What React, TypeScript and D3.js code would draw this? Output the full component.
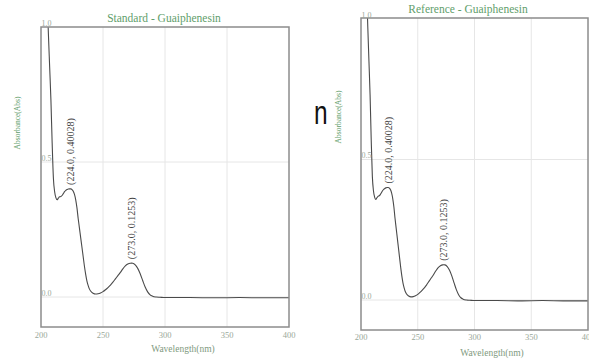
import React from "react";
import * as d3 from "d3";

const wavelengths = [200, 202, 204, 205, 206, 207, 208, 209, 210, 211, 212, 213, 214, 215, 216, 217, 218, 219, 220, 221, 222, 223, 224, 225, 226, 227, 228, 229, 230, 231, 232, 233, 234, 235, 236, 237, 238, 239, 240, 242, 244, 246, 248, 250, 252, 254, 256, 258, 260, 262, 264, 266, 268, 270, 272, 273, 274, 276, 278, 280, 282, 284, 286, 288, 290, 293, 296, 300, 320, 340, 360, 380, 400];
const standardAbs = [1.9, 1.6, 1.25, 1.1, 0.97, 0.85, 0.73, 0.57, 0.44, 0.39, 0.368, 0.36, 0.366, 0.371, 0.372, 0.376, 0.383, 0.39, 0.395, 0.398, 0.4, 0.4003, 0.40028, 0.398, 0.392, 0.38, 0.36, 0.33, 0.29, 0.255, 0.22, 0.185, 0.15, 0.115, 0.085, 0.06, 0.043, 0.03, 0.022, 0.014, 0.011, 0.012, 0.015, 0.02, 0.027, 0.035, 0.044, 0.055, 0.067, 0.079, 0.091, 0.104, 0.115, 0.122, 0.1251, 0.1253, 0.125, 0.119, 0.106, 0.086, 0.061, 0.037, 0.019, 0.008, 0.003, 0.0, -0.001, -0.002, -0.002, -0.003, -0.002, -0.003, -0.003];
const referenceAbs = [1.9, 1.6, 1.25, 1.1, 0.97, 0.85, 0.73, 0.57, 0.44, 0.388, 0.366, 0.358, 0.364, 0.369, 0.371, 0.375, 0.382, 0.389, 0.394, 0.397, 0.399, 0.4003, 0.40028, 0.398, 0.392, 0.38, 0.36, 0.33, 0.29, 0.255, 0.22, 0.185, 0.15, 0.115, 0.085, 0.06, 0.043, 0.03, 0.022, 0.014, 0.011, 0.012, 0.015, 0.02, 0.027, 0.035, 0.044, 0.055, 0.067, 0.079, 0.091, 0.104, 0.115, 0.122, 0.1251, 0.1253, 0.125, 0.119, 0.106, 0.086, 0.061, 0.037, 0.019, 0.008, 0.003, 0.0, -0.001, -0.002, -0.002, -0.003, -0.002, -0.003, -0.003];
const xTicks = [200, 250, 300, 350, 400];
const yTicks = [0.0, 0.5, 1.0];
const peaks = [
  { wl: 224.0, abs: 0.40028, label: "(224.0, 0.40028)" },
  { wl: 273.0, abs: 0.1253, label: "(273.0, 0.1253)" },
];

const SERIF = "'Liberation Serif', 'DejaVu Serif', serif";
const GREEN = "#5f9e6b";
const TICK = "#9aa89a";

type PanelProps = {
  id: string;
  title: string;
  values: number[];
  x0: number;
  x1: number;
  yTop: number;
  yBottom: number;
  yZero: number;
  yOne: number;
  titleX: number;
  titleY: number;
  yLabelX: number;
  yLabelY: number;
  xLabelX: number;
  xLabelY: number;
  xTickY: number;
};

function Panel(p: PanelProps) {
  const x = d3.scaleLinear().domain([200, 400]).range([p.x0, p.x1]);
  const y = d3.scaleLinear().domain([0, 1]).range([p.yZero, p.yOne]);
  const line = d3
    .line<number>()
    .x((_, i) => x(wavelengths[i]))
    .y((d) => y(d))
    .curve(d3.curveMonotoneX);
  const clipId = `clip-${p.id}`;
  return (
    <g>
      <defs>
        <clipPath id={clipId}>
          <rect x={p.x0} y={p.yTop} width={p.x1 - p.x0} height={p.yBottom - p.yTop} />
        </clipPath>
      </defs>
      {xTicks.slice(1, -1).map((t) => (
        <line key={"gx" + t} x1={x(t)} x2={x(t)} y1={p.yTop} y2={p.yBottom} stroke="#e6e6e6" strokeWidth={1} />
      ))}
      {yTicks.slice(0, -1).map((t) => (
        <line key={"gy" + t} x1={p.x0} x2={p.x1} y1={y(t)} y2={y(t)} stroke="#e6e6e6" strokeWidth={1} />
      ))}
      <path d={line(p.values) || ""} fill="none" stroke="#4a4a4a" strokeWidth={1.1} clipPath={`url(#${clipId})`} />
      <rect x={p.x0} y={p.yTop} width={p.x1 - p.x0} height={p.yBottom - p.yTop} fill="none" stroke="#8c8c8c" strokeWidth={1.5} />
      {yTicks.map((t) => (
        <text key={"yt" + t} x={p.x0 + 0.5} y={y(t) - 1.5} fontFamily={SERIF} fontSize={8} fill={TICK}>
          {t.toFixed(1)}
        </text>
      ))}
      {xTicks.map((t) => (
        <text key={"xt" + t} x={x(t)} y={p.xTickY} fontFamily={SERIF} fontSize={8.5} fill={TICK} textAnchor="middle">
          {t}
        </text>
      ))}
      {peaks.map((pk) => (
        <text
          key={pk.label}
          transform={`translate(${x(pk.wl)},${y(pk.abs) - 4}) rotate(-90)`}
          dy="0.35em"
          fontFamily={SERIF}
          fontSize={10}
          fill="#444"
        >
          {pk.label}
        </text>
      ))}
      <text x={p.titleX} y={p.titleY} textAnchor="middle" fontFamily={SERIF} fontSize={11.5} fill={GREEN}>
        {p.title}
      </text>
      <text
        transform={`translate(${p.yLabelX},${p.yLabelY}) rotate(-90)`}
        textAnchor="middle"
        dy="0.35em"
        fontFamily={SERIF}
        fontSize={7.5}
        fill={GREEN}
      >
        Absorbance(Abs)
      </text>
      <text x={p.xLabelX} y={p.xLabelY} textAnchor="middle" fontFamily={SERIF} fontSize={9.5} fill="#7f9a80">
        Wavelength(nm)
      </text>
    </g>
  );
}

export default function App() {
  return (
    <svg
      width={589}
      height={360}
      style={{ position: "absolute", left: 0, top: 0, background: "#fff" }}
    >
      <rect x={0} y={0} width={589} height={360} fill="#fff" />
      <Panel
        id="std"
        title="Standard - Guaiphenesin"
        values={standardAbs}
        x0={41}
        x1={289}
        yTop={27}
        yBottom={327}
        yZero={297}
        yOne={27}
        titleX={164}
        titleY={22}
        yLabelX={17}
        yLabelY={123}
        xLabelX={183}
        xLabelY={352}
        xTickY={338}
      />
      <Panel
        id="ref"
        title="Reference - Guaiphenesin"
        values={referenceAbs}
        x0={361}
        x1={588}
        yTop={18}
        yBottom={330}
        yZero={300}
        yOne={19}
        titleX={468}
        titleY={13}
        yLabelX={338}
        yLabelY={117}
        xLabelX={492}
        xLabelY={356}
        xTickY={340}
      />
      <text
        transform="translate(314,124) scale(0.72,1)"
        fontFamily="'Liberation Sans', Arial, sans-serif"
        fontSize={34}
        fill="#111"
      >
        n
      </text>
    </svg>
  );
}
